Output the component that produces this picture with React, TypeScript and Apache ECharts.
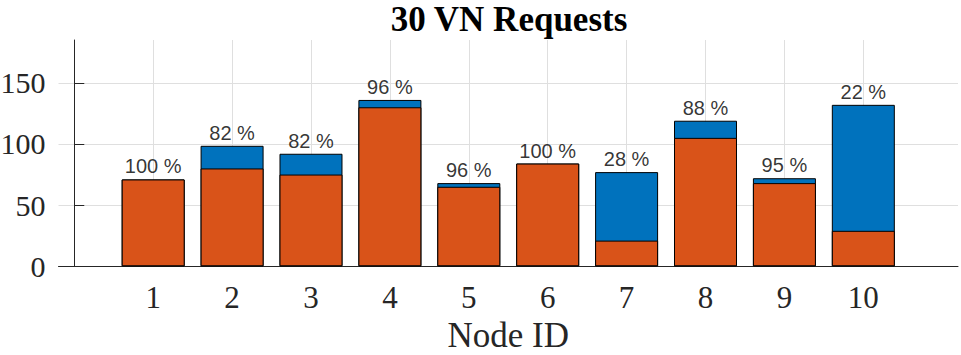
import React, { useEffect, useRef } from "react";
import * as echarts from "echarts";

const nodeIds = [1, 2, 3, 4, 5, 6, 7, 8, 9, 10];
const accepted = [71, 80, 75, 130, 65, 84, 21, 105, 68, 29];
const rejected = [0, 18.5, 17, 6, 3, 0, 56, 14, 4, 103];
const acceptPct = [100, 82, 82, 96, 96, 100, 28, 88, 95, 22];
const yTicks = [0, 50, 100, 150];
const xTicks = [1, 2, 3, 4, 5, 6, 7, 8, 9, 10];

export default function App() {
  const ref = useRef<HTMLDivElement>(null);
  useEffect(() => {
    document.body.style.margin = "0";
    if (!ref.current) return;
    const chart = echarts.init(ref.current, null, { renderer: "svg" });
    const axisColor = "#262626";
    const gridColor = "#dfdfdf";
    const totals = nodeIds.map((_, i) => accepted[i] + rejected[i]);
    chart.setOption({
      animation: false,
      graphic: [
        {
          type: "text",
          x: 509,
          y: 2,
          style: {
            text: "30 VN Requests",
            align: "center",
            verticalAlign: "top",
            fontFamily: "Liberation Serif",
            fontWeight: "bold",
            fontSize: 35,
            fill: "#000",
          },
        },
      ],
      grid: { left: 58.5, right: 3, top: 40, bottom: 88.7, containLabel: false, outerBoundsMode: "none" },
      xAxis: {
        type: "value",
        min: -0.2,
        max: 11.2,
        name: "Node ID",
        nameLocation: "middle",
        nameGap: 52,
        nameTextStyle: { fontFamily: "Liberation Serif", fontSize: 35, color: axisColor },
        axisLine: { show: true, lineStyle: { color: axisColor, width: 1 } },
        axisTick: { show: false, customValues: xTicks },
        axisLabel: {
          customValues: xTicks,
          margin: 16,
          fontFamily: "Liberation Serif",
          fontSize: 31,
          color: axisColor,
        },
        splitLine: { show: true, lineStyle: { color: gridColor, width: 1 } },
      },
      yAxis: {
        type: "value",
        min: 0,
        max: 185,
        axisLine: { show: true, lineStyle: { color: axisColor, width: 1 } },
        axisTick: { show: true, inside: true, length: 10, customValues: yTicks, lineStyle: { color: axisColor } },
        axisLabel: {
          customValues: yTicks,
          margin: 13,
          fontFamily: "Liberation Serif",
          fontSize: 30,
          color: axisColor,
        },
        splitLine: { show: true, lineStyle: { color: gridColor, width: 1 } },
      },
      series: [
        {
          type: "bar",
          barWidth: 63,
          barGap: "-100%",
          data: nodeIds.map((x, i) => [x, totals[i]]),
          itemStyle: { color: "#0072BD", borderColor: "#000", borderWidth: 1 },
        },
        {
          type: "bar",
          barWidth: 63,
          barGap: "-100%",
          data: nodeIds.map((x, i) => [x, accepted[i]]),
          itemStyle: { color: "#D95319", borderColor: "#000", borderWidth: 1 },
        },
        {
          type: "scatter",
          symbolSize: 0,
          z: 10,
          data: nodeIds.map((x, i) => [x, totals[i], acceptPct[i]]),
          label: {
            show: true,
            position: "top",
            distance: 3,
            formatter: (p: any) => `${p.value[2]} %`,
            fontFamily: "Liberation Sans",
            fontSize: 20,
            color: "#000",
          },
        },
      ],
    });
    return () => chart.dispose();
  }, []);
  return <div ref={ref} style={{ width: 961, height: 355 }} />;
}
